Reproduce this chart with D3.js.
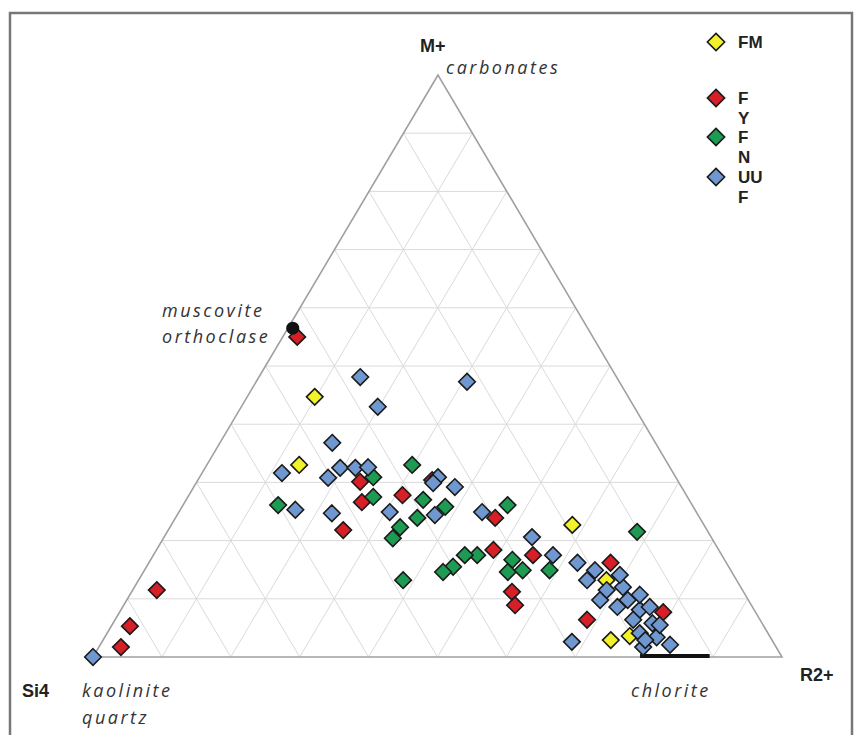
<!DOCTYPE html>
<html>
<head>
<meta charset="utf-8">
<script src="https://cdn.jsdelivr.net/npm/d3@7"></script>
<style>
  body { margin: 0; background: #fff; }
  svg { display: block; }
  .grid { stroke: #dadada; stroke-width: 1; fill: none; }
  .frame { stroke: #a0a0a0; stroke-width: 1.6; fill: none; }
  .lbl-b { font-family: "Liberation Sans", Arial, sans-serif; font-weight: bold; font-size: 18px; fill: #222; }
  .lbl-i { font-family: "Open Sans", sans-serif; font-style: italic; font-size: 18px; letter-spacing: 2.5px; fill: #333; }
</style>
</head>
<body>
<div id="chart"></div>
<script>
// Ternary plot: M+ (top), Si4 (bottom left), R2+ (bottom right)
// each point is [M+ %, R2+ %], Si4 = 100 - M - R

const seriesNames = ['FM', 'FY', 'FN', 'UUF'];
const legendLines = [['FM'], ['F', 'Y'], ['F', 'N'], ['UU', 'F']];
const seriesColors = ['#f2f22a', '#d61f26', '#1e9b52', '#6f98d0'];

const fmData = [
  [44.7, 9.8], [33.0, 13.4], [22.7, 58.2], [13.2, 67.9], [2.9, 73.7], [3.6, 76.1]
];

const fyData = [
  [55.0, 2.1], [11.5, 3.5], [5.3, 2.7], [1.7, 3.2], [21.8, 25.4], [26.6, 25.7],
  [30.1, 23.7], [27.8, 31.0], [30.4, 34.0], [23.9, 46.4], [18.4, 48.9], [17.5, 55.1],
  [11.2, 55.2], [8.9, 56.8], [16.2, 67.0], [6.4, 68.5], [7.7, 78.9]
];

const fnData = [
  [26.1, 13.8], [33.0, 29.8], [27.5, 26.9], [30.9, 25.2], [27.0, 34.4], [25.8, 38.2],
  [23.9, 35.1], [22.3, 33.4], [20.4, 33.3], [26.1, 47.1], [13.2, 38.4], [15.5, 44.5],
  [14.6, 43.5], [17.5, 47.0], [16.7, 52.5], [14.6, 52.9], [14.9, 54.9], [14.9, 58.8],
  [21.5, 68.2], [17.5, 45.2]
];

const uufData = [
  [0, 0], [48.1, 14.7], [47.3, 30.6], [43.0, 19.8], [36.8, 16.3], [31.6, 11.6],
  [25.3, 16.7], [24.7, 22.3], [32.5, 19.6], [30.8, 18.7], [32.5, 21.8], [32.6, 23.6],
  [30.9, 34.6], [29.2, 37.9], [29.9, 34.4], [24.9, 30.6], [24.4, 37.4], [24.9, 44.0],
  [20.6, 53.4], [17.5, 58.0], [16.2, 62.2], [13.2, 65.1], [12.0, 70.9], [9.8, 68.7],
  [8.6, 71.8], [8.1, 75.3], [8.6, 76.5], [6.4, 75.2], [5.8, 78.3], [4.1, 77.3],
  [3.4, 80.1], [1.7, 79.0], [2.1, 82.7], [2.6, 68.2], [11.5, 68.8], [14.9, 65.4],
  [14.1, 69.4], [9.8, 72.7], [5.5, 79.5], [10.7, 74.0], [2.9, 78.7]
];

const seriesData = [fmData, fyData, fnData, uufData];

// muscovite / orthoclase end member and chlorite range on the base
const muscovitePoint = [56.5, 0.7];
const chloriteRange = [79.4, 89.5];

const gridTicks = d3.range(10, 100, 10);

const W = 857, H = 735;
const svg = d3.select('#chart').append('svg')
  .attr('width', W)
  .attr('height', H);

// outer picture frame (cut at the bottom)
svg.append('path')
  .attr('d', `M10,740 L10,13 L852,13 L852,740`)
  .attr('fill', 'none')
  .attr('stroke', '#777')
  .attr('stroke-width', 2.5);

// scales for the ternary projection
const yM = d3.scaleLinear().domain([0, 100]).range([657, 75]);
const xR = d3.scaleLinear().domain([0, 100]).range([0, 689]);
const xM = d3.scaleLinear().domain([0, 100]).range([0, 345]);
const x0 = 93;

function project(m, r) {
  return [x0 + xR(r) + xM(m), yM(m)];
}

// grid lines
const grid = svg.append('g');
gridTicks.forEach(t => {
  // constant M
  let a = project(t, 0), b = project(t, 100 - t);
  grid.append('line').attr('class', 'grid')
    .attr('x1', a[0]).attr('y1', a[1]).attr('x2', b[0]).attr('y2', b[1]);
  // constant R
  a = project(0, t); b = project(100 - t, t);
  grid.append('line').attr('class', 'grid')
    .attr('x1', a[0]).attr('y1', a[1]).attr('x2', b[0]).attr('y2', b[1]);
  // constant Si
  a = project(0, 100 - t); b = project(100 - t, 0);
  grid.append('line').attr('class', 'grid')
    .attr('x1', a[0]).attr('y1', a[1]).attr('x2', b[0]).attr('y2', b[1]);
});

// triangle outline
const corners = [project(100, 0), project(0, 0), project(0, 100)];
svg.append('path')
  .attr('class', 'frame')
  .attr('d', d3.line()(corners) + 'Z');

// chlorite range on the base
const c1 = project(0, chloriteRange[0]), c2 = project(0, chloriteRange[1]);
svg.append('line')
  .attr('x1', c1[0]).attr('y1', c1[1] - 1)
  .attr('x2', c2[0]).attr('y2', c2[1] - 1)
  .attr('stroke', '#111')
  .attr('stroke-width', 4);

// points
const diamond = d3.symbol().type(d3.symbolDiamond2).size(175);

seriesData.forEach((data, i) => {
  svg.append('g')
    .selectAll('path')
    .data(data)
    .join('path')
    .attr('d', diamond)
    .attr('transform', d => {
      const p = project(d[0], d[1]);
      return `translate(${p[0]},${p[1]})`;
    })
    .attr('fill', seriesColors[i])
    .attr('stroke', '#1a1a1a')
    .attr('stroke-width', 1.6);
});

// muscovite end member
const mp = project(muscovitePoint[0], muscovitePoint[1]);
svg.append('circle')
  .attr('cx', mp[0]).attr('cy', mp[1])
  .attr('r', 6.5)
  .attr('fill', '#111');

// vertex labels
const labels = [
  { t: 'M+', x: 420, y: 52, c: 'lbl-b' },
  { t: 'carbonates', x: 446, y: 74, c: 'lbl-i' },
  { t: 'muscovite', x: 162, y: 317, c: 'lbl-i' },
  { t: 'orthoclase', x: 162, y: 343, c: 'lbl-i' },
  { t: 'Si4', x: 22, y: 697, c: 'lbl-b' },
  { t: 'kaolinite', x: 82, y: 697, c: 'lbl-i' },
  { t: 'quartz', x: 82, y: 724, c: 'lbl-i' },
  { t: 'chlorite', x: 631, y: 697, c: 'lbl-i' },
  { t: 'R2+', x: 800, y: 681, c: 'lbl-b' }
];
svg.append('g').selectAll('text')
  .data(labels)
  .join('text')
  .attr('class', d => d.c)
  .attr('x', d => d.x)
  .attr('y', d => d.y)
  .text(d => d.t);

// legend
const legendY = [42, 98, 137, 177];
const legend = svg.append('g');
seriesNames.forEach((name, i) => {
  legend.append('path')
    .attr('d', d3.symbol().type(d3.symbolDiamond2).size(190)())
    .attr('transform', `translate(716,${legendY[i]})`)
    .attr('fill', seriesColors[i])
    .attr('stroke', '#1a1a1a')
    .attr('stroke-width', 1.6);
  legendLines[i].forEach((line, j) => {
    legend.append('text')
      .attr('class', 'lbl-b')
      .attr('x', 738)
      .attr('y', legendY[i] + 6 + j * 20)
      .style('font-size', '17px')
      .text(line);
  });
});
</script>
</body>
</html>
